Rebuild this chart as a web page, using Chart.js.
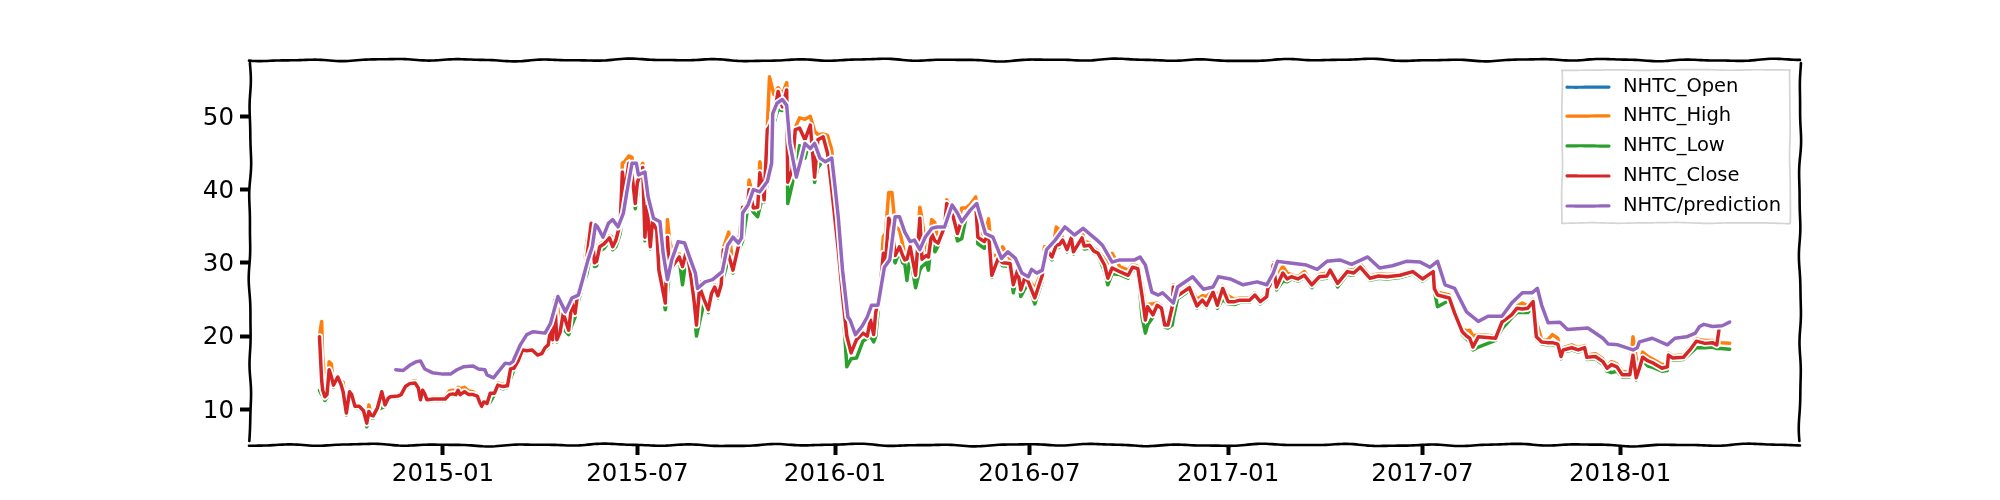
<!DOCTYPE html>
<html>
<head>
<meta charset="utf-8">
<style>html,body{margin:0;padding:0;background:#fff}canvas{display:block}</style>
<script src="https://cdn.jsdelivr.net/npm/chart.js@4"></script>
</head>
<body>
<canvas id="c" width="2000" height="500"></canvas>
<script>
// x positions are days counted from 2015-01-01
const seriesNames = ["NHTC_Open","NHTC_High","NHTC_Low","NHTC_Close","NHTC/prediction"];
const seriesColors = ["#1f77b4","#ff7f0e","#2ca02c","#d62728","#9467bd"];
const tickDays = [0,181,365,546,731,912,1096];
const tickLabels = ["2015-01","2015-07","2016-01","2016-07","2017-01","2017-07","2018-01"];
const yTicks = [10,20,30,40,50];

const days = [
-115,-113,-112,-110,-108,-106,-104,-102,-98,-95,
-93,-90,-87,-85,-82,-78,-74,-71,-69,-67,
-65,-61,-57,-54,-51,-49,-42,-39,-35,-31,
-26,-23,-21,-19,-17,-15,-9,-3,2,6,
9,12,14,16,20,24,28,32,34,36,
38,41,44,48,51,56,60,61,63,66,
70,74,78,83,88,92,95,98,100,102,
104,106,109,112,117,120,123,125,130,134,
138,141,143,146,150,155,158,161,165,167,
169,173,176,179,181,186,188,190,193,195,
199,201,207,209,211,216,220,223,227,231,
234,236,239,243,247,250,253,256,259,261,
266,270,275,279,283,285,289,293,295,298,
299,302,304,308,312,316,320,321,325,328,
332,337,342,346,349,354,358,362,368,372,
376,380,385,391,395,398,401,403,406,410,
412,415,418,421,425,428,430,432,435,440,
444,446,450,452,455,458,461,467,469,472,
475,479,483,487,491,496,498,504,508,511,
517,521,528,531,535,538,542,545,551,558,
560,562,567,571,574,577,581,585,587,595,
597,602,606,610,616,619,623,630,638,642,
647,651,654,656,661,665,669,672,675,679,
680,684,689,695,702,707,711,717,721,726,
731,737,742,751,756,761,767,768,770,773,
776,782,786,790,796,802,809,816,823,826,
833,842,848,854,863,871,879,891,903,912,
922,923,926,937,942,949,953,956,959,964,
980,986,995,1000,1005,1010,1015,1018,1023,1028,
1033,1038,1041,1043,1051,1057,1063,1065,1073,1080,
1084,1088,1093,1098,1105,1108,1111,1114,1117,1122,
1127,1135,1140,1141,1145,1155,1161,1167,1175,1182,
1186,1188,1190,1198];

const closeValues = [
19.9,14,12.6,11.7,12,15.4,14.5,13.3,14.4,13.4,
12.4,9.5,12.4,12,10.4,10.4,9.8,8.1,9.7,9.2,
9.1,10.2,12.4,10.6,11.5,11.7,11.8,12,13.1,13.5,
13.6,12.9,11.3,12.6,12.1,11.3,11.4,11.4,11.4,12,
12.1,12,12.6,12,12.4,12,12,11.8,11,10.4,
11,10.8,12.2,12.2,13.3,13.1,13.2,14,15.6,15.6,
16.6,18.1,18,18.1,17.4,17.6,18.4,18.8,20.8,19.5,
24.9,19.5,20.5,23.1,20.8,24.5,23.1,25.4,27.2,30.8,
35.4,30,30.2,32.2,32.6,33.4,32.2,33.1,35.4,42.4,
39.5,43.6,42,38.1,41,43,33.5,37.7,32.2,35.6,
34.5,29,24.5,33.5,29,30,30.8,29.5,31.8,28,
24.5,21.5,26.7,25,23.6,25.8,26.7,25.5,27,31.8,
31,29,32.2,37.6,37.2,40,37.5,37.6,42.3,40,
38.6,48.2,48.6,50,53.4,51.3,53.6,41,42.7,48.2,
48.4,46.8,48.8,41.7,46.8,47.2,45,40,31.8,25.5,
20,17.7,19.5,20.4,20,22.2,20.2,23.3,25,31.3,
30,36.1,35,31,32.2,31,30.4,30.5,32.2,28.3,
36.1,30.5,31,30.8,34,33,32.7,34.9,38.1,37.5,
36.3,34,35.9,36.5,37.2,38.1,33.5,32.9,34,28.3,
30.6,30,29.9,27,29,26.3,28.1,27.4,25.2,28.3,
31,31.8,30.8,32.4,32.5,33.1,31.8,33.4,31.5,33.4,
32.3,32.4,31.6,31.3,29.7,27.9,29.3,28.8,28.3,29.4,
29.2,25.4,22.2,24,22.9,24.2,23.8,21.5,21.5,24,
26.7,25.5,26,26.6,24.1,24.9,24.2,26,24.2,26.5,
24.7,24.7,24.9,24.9,25.6,24.7,25.4,26.5,27,29.7,
26.7,28.6,27.8,28.1,27.8,28.3,27,28.1,28.2,29,
27.2,28.8,28.6,29.4,27.9,28.2,28.1,28.3,28.8,27.8,
28.8,26.5,25.6,25.2,23.1,20.6,20,19.7,18.5,19.9,
19.7,21.9,22.9,23.8,23.7,23.8,24.7,19.9,19.2,19.1,
19.1,18.9,17.2,18.1,18.4,18.1,18.4,17.1,17.2,16.5,
15.6,16.1,15.8,14.7,14.7,17.4,14.3,15.6,17.1,16.6,
16.3,15.6,15.8,17.4,17,17.1,18.1,19.3,19,19.1,
18.8,20.8,null,null];

const highValues = [
20,22,17,14,12.2,16.5,16.2,13.5,14.6,13.6,
13.7,9.7,12.6,12.2,10.7,10.6,10,8.3,10.6,9.4,
9.3,10.4,12.5,11.5,11.7,11.9,12,12.2,13.3,13.7,
13.9,13.2,11.8,12.8,12.3,11.5,11.6,11.6,11.6,12.5,
12.6,12.5,13,12.8,13,12.5,12.4,12,11.3,10.6,
11.2,11,12.4,12.4,13.6,13.4,13.5,14.2,15.8,15.8,
16.8,18.3,18.2,18.3,17.7,17.9,18.6,19.2,21.5,22.5,
25.2,25,21,23.5,21.2,24.8,24.8,25.8,27.5,33,
35.6,33,30.5,32.5,33,33.7,33.5,33.4,35.8,43.6,
43.8,44.6,44.4,39,42,43.6,40,38,36,36,
35.5,33,26,35.9,33,30.3,31.2,30,32.2,30,
26,23,27.4,25.5,24.5,26,27,26.8,27.3,32,
34.2,30,32.5,37.8,37.5,41.3,39,37.9,43.8,42,
39.5,48.6,55.4,53,53.9,53,54.6,52,43,48.5,
49.8,49.6,50,48,47.5,47.6,47.4,45.4,32.4,26.2,
21,18,19.8,20.7,20.3,22.5,20.6,23.6,25.3,33.6,
34,39.6,39.6,35,34.5,32.5,31,31,32.5,29.5,
37.6,36,31.5,31.2,35.9,35.5,33,35.2,38.6,37.8,
36.6,35,37.5,37.5,38,39,36,33.2,36,31,
31,32.2,30.5,28,29.3,27.5,28.4,27.8,26.5,29,
32.2,32,31.1,34.9,34.5,33.4,32.2,33.7,33.8,34.7,
33,32.7,32,31.6,30.5,30,31.3,29.5,29,29.8,
29.5,27,24,24.3,24.4,24.5,24.1,22,21.8,24.3,
27,25.8,26.3,26.9,25,25.5,25.4,26.2,25.5,26.8,
25.5,25,25.2,25.2,25.9,25.1,25.6,26.7,28,30,
28,29.5,28.6,28.4,28.1,28.8,27.3,28.4,28.6,29.2,
27.6,29.1,29,29.9,28.2,28.5,28.4,28.5,29,28.1,
29,27.5,26,25.6,23.5,21,20.7,20.8,20,20.2,
20,22.2,23.2,24.1,24.5,24.1,25,22,19.5,19.4,
20.2,19.7,17.5,18.4,18.8,18.4,18.7,17.4,17.6,16.9,
16,16.5,16.2,15.2,15,19.9,17,16,17.8,17.2,
16.8,16.1,16.1,17.7,17.3,17.4,18.4,19.6,19.4,19.4,
19.2,19.2,19.1,19];

const lowValues = [
12.6,12,11.8,11.2,11.6,14.8,13.3,13,14.1,13.1,
12.2,9.2,10.9,11.7,10.2,10.1,9.5,7.6,8.6,8.9,
8.8,9.9,10.2,10.4,11.2,11.5,11.6,11.8,12.8,13.3,
13.4,12.7,11.1,11.5,11.9,11.1,11.2,11.2,11.2,11.8,
11.9,11.8,12.4,11.8,12.2,11.8,11.8,11.6,10.8,10.2,
10.8,10.6,11,12,13,12.8,13,13.8,14.2,15.4,
16.4,17.7,17.8,17.9,17.2,17.4,18,18.5,20,19.2,
21,19.2,20.2,21,20.2,21.5,22.6,24.2,26.8,28.5,
31.5,29.5,29.6,31.6,32,33,31.8,32.2,34,36.5,
38.8,42,41,37.4,39,42,33,34,31.9,33,
34,28.8,23.6,26,28.7,29.6,30.4,27,31,27,
23.5,20,22,24.5,23.2,25.4,26.3,25.2,26.6,28,
30.6,28.6,31.6,33,36.8,38,36.9,36.3,37.5,39.2,
38.3,41,47.5,49,51,50.8,51.5,38.1,40.6,43,
46,44.3,47,41,43,44,44.2,39.6,31.2,24.8,
15.8,16.9,17,19.3,19.7,20,19.2,20,24.7,29,
29.6,31.5,31,30,31.6,30,29.8,27.6,31,26.6,
29,29.5,30,29,33.5,31.5,32.3,34.5,35,37.1,
35.9,33,33.3,36.2,36.9,37.6,32.6,32,33,28,
30.2,29.6,29.5,25.9,28.6,25.4,26.5,27,24.4,27.5,
30,31.4,30.4,31.9,32.2,32.8,31.5,33,31.2,33,
31.9,32,31.3,31,28.8,27,28.5,28.4,27.9,29,
28.9,22.5,20.4,21.5,22.6,23.8,23.4,21.2,21.1,21.5,
22.5,25.1,25.6,26.2,23.8,24.5,23.9,25.5,23.8,25,
24.4,24.3,24.6,24.6,25.3,24.4,25.1,26.2,26.7,28,
26.3,27.5,27.4,27.8,27.5,28,26.6,27.8,27.9,28.7,
26.7,28.4,28.3,29.1,27.6,27.9,27.8,28,28.5,27.5,
28.5,26.2,24,24.9,22.8,20.2,19.6,19.2,18.1,18.5,
19.4,21,22.5,23.2,23.2,23.2,24,19.6,18.9,18.8,
18.8,18.6,16.9,17.8,18.1,17.8,18.1,16.8,16.9,16.1,
15.2,15,15.2,14.4,14.4,15,14,14.9,16.6,15.9,
15.7,15.2,15.3,17,16.7,16.8,17.6,18.4,18.4,18.5,
18.3,18.3,18.3,18.2];

const openValues = [
19.5,15,13,11.9,11.9,15,14.6,13.5,14.2,13.6,
12.6,10,12.2,12.1,10.6,10.3,9.9,8.4,9.5,9.3,
9.1,10,12,10.8,11.4,11.6,11.8,11.9,13,13.4,
13.6,13,11.5,12.4,12.1,11.4,11.4,11.3,11.4,11.9,
12.2,12.1,12.5,12.1,12.4,12.1,12,11.8,11.1,10.5,
10.9,10.8,12,12.2,13.2,13.1,13.2,13.9,15.4,15.6,
16.5,18,18,18.1,17.5,17.6,18.3,18.8,20.5,19.8,
24.5,20,20.4,22.8,21,24.2,23.3,25.2,27,30.4,
35,30.4,30.2,32,32.5,33.3,32.4,33,35.2,41.8,
40,43.2,42.2,38.6,40.6,42.8,34.5,37.2,33,35.3,
34.6,29.6,25,32.8,29.4,29.9,30.7,29.7,31.6,28.4,
24.8,22,26.2,25.2,23.8,25.6,26.6,25.6,26.8,31.2,
31.2,29.2,32,37,37.2,39.6,37.8,37.6,41.8,40.2,
38.8,47.4,48.4,49.8,53,51.6,53.2,42,42.6,47.6,
48.2,47,48.6,42.4,46.4,47.1,45.2,40.6,32.4,26,
20.6,18,19.3,20.3,20.1,22,20.4,23,24.8,30.8,
30.2,35.6,35.1,31.4,32.1,31.1,30.5,30.5,32,28.6,
35.4,31,31,30.8,33.7,33.1,32.7,34.7,37.8,37.6,
36.4,34.2,35.7,36.4,37.1,38,34,32.9,33.9,28.8,
30.4,30.1,29.9,27.3,28.8,26.6,28,27.5,25.4,28.1,
30.8,31.7,30.9,32.3,32.5,33,31.9,33.3,31.7,33.3,
32.4,32.4,31.7,31.3,29.9,28.1,29.2,28.8,28.4,29.3,
29.2,25.8,22.5,23.8,23,24.1,23.8,21.8,21.5,23.8,
26.4,25.6,25.9,26.5,24.3,24.8,24.3,25.8,24.4,26.3,
24.9,24.7,24.9,24.9,25.5,24.8,25.3,26.4,26.9,29.4,
27,28.4,27.9,28.1,27.8,28.2,27.1,28,28.2,28.9,
27.4,28.7,28.6,29.3,28,28.2,28.1,28.3,28.7,27.9,
28.7,26.7,25.7,25.2,23.3,20.8,20.1,19.7,18.7,19.8,
19.7,21.7,22.8,23.7,23.7,23.8,24.6,20.4,19.2,19.1,
19.1,18.9,17.4,18,18.4,18.1,18.3,17.3,17.2,16.6,
15.7,16,15.8,14.8,14.7,17,14.7,15.5,17,16.6,
16.4,15.7,15.7,17.2,17,17.1,18,19.2,19,19,
18.8,18.7,18.7,18.7];

const predictionDays = [
-44,-37,-31,-25,-21,-17,-10,0,7,13,
19,28,33,39,41,47,53,58,62,65,
72,78,84,95,100,107,114,120,126,130,
135,139,142,144,149,154,158,163,168,171,
176,180,182,188,191,196,202,205,209,213,
219,225,230,235,237,244,251,260,265,270,
275,278,279,284,289,295,302,306,307,311,
316,320,323,329,334,337,342,346,351,356,
362,365,368,372,377,379,384,390,395,399,
405,411,416,421,425,430,435,439,444,449,
455,460,467,474,479,483,491,497,505,512,
520,526,533,539,545,548,553,558,562,570,
579,588,596,609,614,623,630,644,649,654,
660,666,670,680,684,698,708,717,722,733,
745,758,767,773,777,787,804,814,823,835,
846,861,872,884,897,910,919,926,933,942,
953,964,973,986,995,1005,1014,1019,1023,1029,
1040,1047,1066,1080,1085,1094,1108,1112,1114,1126,
1140,1147,1158,1166,1170,1174,1182,1191,1198];

const predictionValues = [
15.4,15.3,16,16.5,16.6,15.5,15,14.8,14.8,15.4,
15.8,15.9,15.5,15.4,14.7,14.3,15.4,16.3,16.2,16.5,
18.8,20.2,20.6,20.4,21.7,25.4,23.3,25.2,25.6,27.7,
30.4,32.2,35.2,34.9,33.5,35.4,35.9,34.9,36.8,39.5,
43.6,43.6,42,42.4,39,36.1,35.6,31.3,27.7,30.4,
32.9,32.7,30.6,28.6,26.5,27.4,27.7,28.8,32.4,33.5,
32.7,33.4,36.8,37.9,40,39.7,41.1,43.6,50.4,51.8,
52.3,51.5,46.3,41.7,44.5,46.3,45.6,46.3,44.3,43.8,
44.3,40.4,36.3,29,22.6,22.2,20.2,21.3,22.6,24.2,
24.2,29.4,30.4,36.3,36.3,34.2,32.9,33.1,31.8,33.5,
34.7,34.9,34.9,37.9,36.8,35.6,37.2,38.1,34,33.5,
30.6,31.5,30.6,28.6,28.1,29.1,28.6,29,31.8,33.1,
34.9,33.8,34.7,33.1,32.4,30.1,30.4,30.4,30.8,29.7,
26,25.6,25.9,24.5,26.7,28.1,26.4,26.7,28.1,27.8,
27,27.4,27,28.6,30.2,30,29.7,29.1,30.2,30.4,
29.8,30.8,29.3,29.6,30.2,30.1,29.4,30.2,27,26.5,
23.3,22,22.7,22.7,24.5,25.9,25.9,26.5,24.2,21.8,
21.9,20.9,21.1,19.7,18.9,18.8,18.1,18.4,19.2,19.7,
18.8,19.7,19.9,20.4,21.3,21.6,21.3,21.4,21.9];

function pairs(xs, ys){ return xs.map((x,i)=>({x:x,y:ys[i]})); }
const seriesData = [
  pairs(days,openValues), pairs(days,highValues), pairs(days,lowValues),
  pairs(days,closeValues), pairs(predictionDays,predictionValues)
];

// gentle hand-drawn wobble used for the frame and the legend box
function wob(t, seed, amp){
  return amp*(Math.sin(t/13+seed)*0.6+Math.sin(t/7+seed*2.3)*0.25+Math.sin(t/37+seed*0.7)*0.4);
}
function wavyLine(ctx,x0,y0,x1,y1,seed,amp){
  const len=Math.hypot(x1-x0,y1-y0), nx=-(y1-y0)/len, ny=(x1-x0)/len;
  ctx.beginPath();
  for(let t=0;t<=len;t+=3){
    const f=t/len, w=wob(t,seed,amp);
    const px=x0+(x1-x0)*f+nx*w, py=y0+(y1-y0)*f+ny*w;
    if(t===0) ctx.moveTo(px,py); else ctx.lineTo(px,py);
  }
  ctx.stroke();
}

const whiteHalo = {
  id:'whiteHalo',
  beforeDatasetDraw(chart,args){
    const ctx=chart.ctx, pts=args.meta.data;
    ctx.save();
    ctx.strokeStyle='#fff'; ctx.lineWidth=7; ctx.lineJoin='round'; ctx.lineCap='round';
    ctx.beginPath();
    let pen=false;
    pts.forEach(p=>{
      if(p.skip){pen=false;return;}
      if(pen) ctx.lineTo(p.x,p.y); else {ctx.moveTo(p.x,p.y);pen=true;}
    });
    ctx.stroke();
    ctx.restore();
  }
};

const sketchFrame = {
  id:'sketchFrame',
  afterDraw(chart){
    const ctx=chart.ctx, a=chart.chartArea;
    ctx.save();
    ctx.strokeStyle='#000'; ctx.lineWidth=2.6; ctx.lineCap='round';
    wavyLine(ctx,a.left-1,a.top,a.right+1,a.top,0.4,1.2);
    wavyLine(ctx,a.left-1,a.bottom,a.right+1,a.bottom,2.1,1.2);
    wavyLine(ctx,a.left,a.top+3,a.left,a.bottom-2,3.7,1.1);
    wavyLine(ctx,a.right,a.top+3,a.right,a.bottom-2,5.2,1.1);
    // legend
    const L=1562,R=1790,T=70,B=223;
    ctx.strokeStyle='rgba(204,204,204,0.85)'; ctx.lineWidth=1.7;
    wavyLine(ctx,L,T,R,T,1.2,0.5);
    wavyLine(ctx,L,B,R,B,2.8,0.5);
    wavyLine(ctx,L,T,L,B,4.1,0.5);
    wavyLine(ctx,R,T,R,B,0.9,0.5);
    const rows=[87,116,146,176,206];
    chart.data.datasets.forEach((d,i)=>{
      ctx.strokeStyle=d.borderColor; ctx.lineWidth=3.2;
      wavyLine(ctx,1567,rows[i],1609,rows[i],i*1.7+0.5,0.3);
      ctx.fillStyle='#000';
      ctx.font='19.5px "DejaVu Sans"';
      ctx.textBaseline='middle'; ctx.textAlign='left';
      ctx.fillText(d.label,1623,rows[i]);
    });
    ctx.restore();
  }
};

new Chart(document.getElementById('c'),{
  type:'line',
  data:{datasets:seriesNames.map((n,i)=>({
    label:n,
    data:seriesData[i],
    borderColor:seriesColors[i],
    backgroundColor:seriesColors[i],
    borderWidth:3.5,
    pointRadius:0,
    tension:0,
    fill:false,
    spanGaps:false,
    borderJoinStyle:'round',
    borderCapStyle:'round',
    order:5-i
  }))},
  plugins:[whiteHalo,sketchFrame],
  options:{
    responsive:false,
    animation:false,
    devicePixelRatio:1,
    parsing:false,
    normalized:true,
    layout:{padding:{left:0,right:200,top:60,bottom:0}},
    plugins:{legend:{display:false},tooltip:{enabled:false}},
    scales:{
      x:{
        type:'linear',
        min:-179.7,max:1263.5,
        border:{display:false},
        grid:{drawOnChartArea:false,drawTicks:true,tickLength:10,tickWidth:4,tickColor:'#000'},
        afterBuildTicks(ax){ax.ticks=tickDays.map(v=>({value:v}));},
        afterFit(ax){ax.height=55;},
        ticks:{
          autoSkip:false,maxRotation:0,minRotation:0,color:'#000',padding:5,
          font:{family:'DejaVu Sans',size:24.5},
          callback(v){const i=tickDays.indexOf(v);return i<0?'':tickLabels[i];}
        }
      },
      y:{
        type:'linear',
        min:5.12,max:57.7,
        border:{display:false},
        grid:{drawOnChartArea:false,drawTicks:true,tickLength:10,tickWidth:4,tickColor:'#000'},
        afterBuildTicks(ax){ax.ticks=yTicks.map(v=>({value:v}));},
        afterFit(ax){ax.width=250;},
        ticks:{color:'#000',padding:6,labelOffset:2,font:{family:'DejaVu Sans',size:24.5}}
      }
    }
  }
});
</script>
</body>
</html>
